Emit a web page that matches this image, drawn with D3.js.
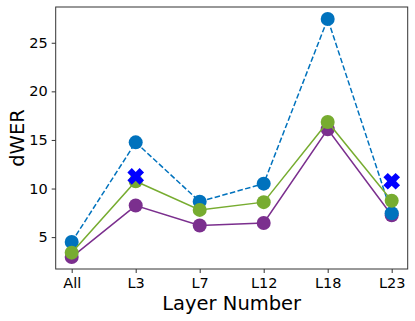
<!DOCTYPE html>
<html>
<head>
<meta charset="utf-8">
<script src="https://cdn.jsdelivr.net/npm/d3@7"></script>
<style>
  body { margin: 0; background: #fff; }
  svg text { font-family: "DejaVu Sans", sans-serif; fill: #000; }
</style>
</head>
<body>
<svg id="chart" width="415" height="321"></svg>
<script>
// data
var layers = ["All", "L3", "L7", "L12", "L18", "L23"];
var purpleVals = [2.95, 8.25, 6.2, 6.45, 16.1, 7.25];
var blueVals = [4.5, 14.75, 8.65, 10.5, 27.45, 7.45];
var greenVals = [3.4, 10.75, 7.8, 8.6, 16.85, 8.75];
var crossLayers = ["L3", "L23"];
var crossVals = [11.25, 10.75];
var yTicks = [5, 10, 15, 20, 25];

var svg = d3.select("#chart");
var plot = { left: 55.7, right: 407.7, top: 7, bottom: 269 };

var x = d3.scalePoint().domain(layers).range([plot.left + 16, plot.right - 16]);
var y = d3.scaleLinear().domain([1.72, 28.68]).range([plot.bottom, plot.top]);

// frame
svg.append("rect")
  .attr("x", plot.left).attr("y", plot.top)
  .attr("width", plot.right - plot.left).attr("height", plot.bottom - plot.top)
  .attr("fill", "none").attr("stroke", "#333").attr("stroke-width", 1);

var xAxis = svg.append("g")
  .attr("transform", `translate(0,${plot.bottom})`)
  .call(d3.axisBottom(x).tickSizeInner(4).tickSizeOuter(0).tickPadding(5));
xAxis.select(".domain").remove();
xAxis.selectAll("line").attr("stroke", "#333");
xAxis.selectAll("text").style("font-size", "14.5px");

var yAxis = svg.append("g")
  .attr("transform", `translate(${plot.left},0)`)
  .call(d3.axisLeft(y).tickValues(yTicks).tickSizeInner(4).tickSizeOuter(0).tickPadding(4));
yAxis.select(".domain").remove();
yAxis.selectAll("line").attr("stroke", "#333");
yAxis.selectAll("text").style("font-size", "14.5px");

svg.append("text")
  .attr("x", (plot.left + plot.right) / 2).attr("y", 310)
  .attr("text-anchor", "middle").style("font-size", "19.5px")
  .text("Layer Number");

svg.append("text")
  .attr("transform", `translate(24,${(plot.top + plot.bottom) / 2}) rotate(-90)`)
  .attr("text-anchor", "middle").style("font-size", "19.5px")
  .text("dWER");

var series = [
  { vals: purpleVals, color: "#7b2f8e", dash: null },
  { vals: blueVals, color: "#0072bd", dash: "5.5,2.4" },
  { vals: greenVals, color: "#77ac30", dash: null }
];

var line = d3.line()
  .x(function (d) { return x(d.k); })
  .y(function (d) { return y(d.v); });

series.forEach(function (s) {
  var pts = layers.map(function (k, i) { return { k: k, v: s.vals[i] }; });
  var g = svg.append("g");
  g.append("path")
    .attr("d", line(pts))
    .attr("fill", "none")
    .attr("stroke", s.color)
    .attr("stroke-width", 1.5)
    .attr("stroke-dasharray", s.dash);
  g.selectAll("circle").data(pts).enter()
    .append("circle")
    .attr("cx", function (d) { return x(d.k); })
    .attr("cy", function (d) { return y(d.v); })
    .attr("r", 7)
    .attr("fill", s.color);
});

// filled X marker (like matplotlib "X")
var filledX = {
  draw: function (ctx, size) {
    var h = Math.sqrt(size) / 2, w = h * 0.36;
    var pts = [[-w, -h], [w, -h], [w, -w], [h, -w], [h, w], [w, w],
               [w, h], [-w, h], [-w, w], [-h, w], [-h, -w], [-w, -w]];
    var c = Math.SQRT1_2;
    pts.forEach(function (p, i) {
      var px = (p[0] - p[1]) * c, py = (p[0] + p[1]) * c;
      if (i === 0) ctx.moveTo(px, py); else ctx.lineTo(px, py);
    });
    ctx.closePath();
  }
};
var cross = d3.symbol().type(filledX).size(300);
svg.append("g").selectAll("path")
  .data(crossLayers.map(function (k, i) { return { k: k, v: crossVals[i] }; }))
  .enter().append("path")
  .attr("d", cross)
  .attr("transform", function (d) { return `translate(${x(d.k)},${y(d.v)})`; })
  .attr("fill", "#0000ff");
</script>
</body>
</html>
